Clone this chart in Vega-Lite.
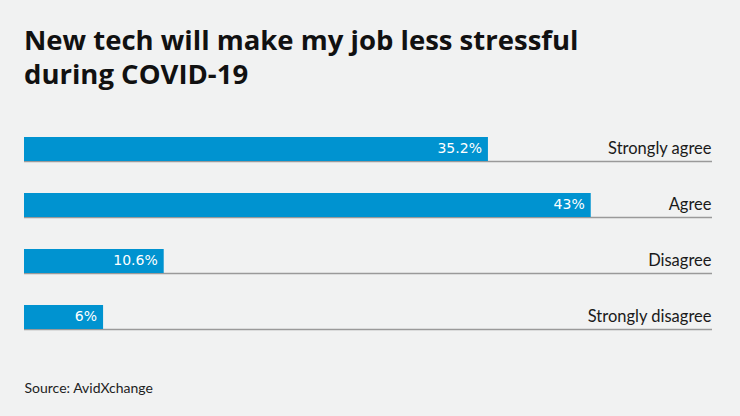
{
  "$schema": "https://vega.github.io/schema/vega-lite/v6.json",
  "width": 688,
  "height": 224,
  "autosize": "none",
  "padding": {"left": 24, "top": 121, "right": 28, "bottom": 71},
  "background": "#f1f2f2",
  "title": {
    "text": ["New tech will make my job less stressful", "during COVID-19"],
    "anchor": "start",
    "frame": "group",
    "font": "Open Sans",
    "fontSize": 27.5,
    "fontWeight": "bold",
    "color": "#111111",
    "lineHeight": 34,
    "offset": 32,
    "dx": 0
  },
  "data": {
    "values": [
      {"response": "Strongly agree", "pct": 35.2, "label": "35.2%"},
      {"response": "Agree", "pct": 43, "label": "43%"},
      {"response": "Disagree", "pct": 10.6, "label": "10.6%"},
      {"response": "Strongly disagree", "pct": 6, "label": "6%"}
    ]
  },
  "encoding": {
    "y": {
      "field": "response",
      "type": "nominal",
      "sort": null,
      "scale": {"paddingInner": 0.5714, "paddingOuter": 0.2857},
      "axis": {
        "orient": "right",
        "title": null,
        "domain": false,
        "ticks": false,
        "grid": false,
        "labelAlign": "right",
        "labelPadding": -1,
        "labelFont": "Lato",
        "labelFontSize": 16.5,
        "labelColor": "#1a1a1a",
        "labelBaseline": "middle"
      }
    }
  },
  "layer": [
    {
      "mark": {"type": "rule", "yOffset": 12.5, "color": "#9a9a9a", "strokeWidth": 1.5},
      "encoding": {}
    },
    {
      "mark": {"type": "bar", "color": "#0093d0"},
      "encoding": {
        "x": {
          "field": "pct",
          "type": "quantitative",
          "scale": {"domain": [0, 52.2], "nice": false},
          "axis": {
            "title": "Source: AvidXchange",
            "titleAnchor": "start",
            "titleAlign": "left",
            "titleFont": "Lato",
            "titleFontSize": 14,
            "titleFontWeight": "normal",
            "titleColor": "#222222",
            "titlePadding": 36,
            "domain": false,
            "ticks": false,
            "labels": false,
            "grid": false
          }
        }
      }
    },
    {
      "mark": {"type": "text", "align": "right", "dx": -6, "baseline": "middle", "color": "#ffffff", "font": "DejaVu Sans", "fontSize": 14},
      "encoding": {
        "x": {"field": "pct", "type": "quantitative"},
        "text": {"field": "label", "type": "nominal"}
      }
    }
  ],
  "config": {"view": {"stroke": null}}
}
